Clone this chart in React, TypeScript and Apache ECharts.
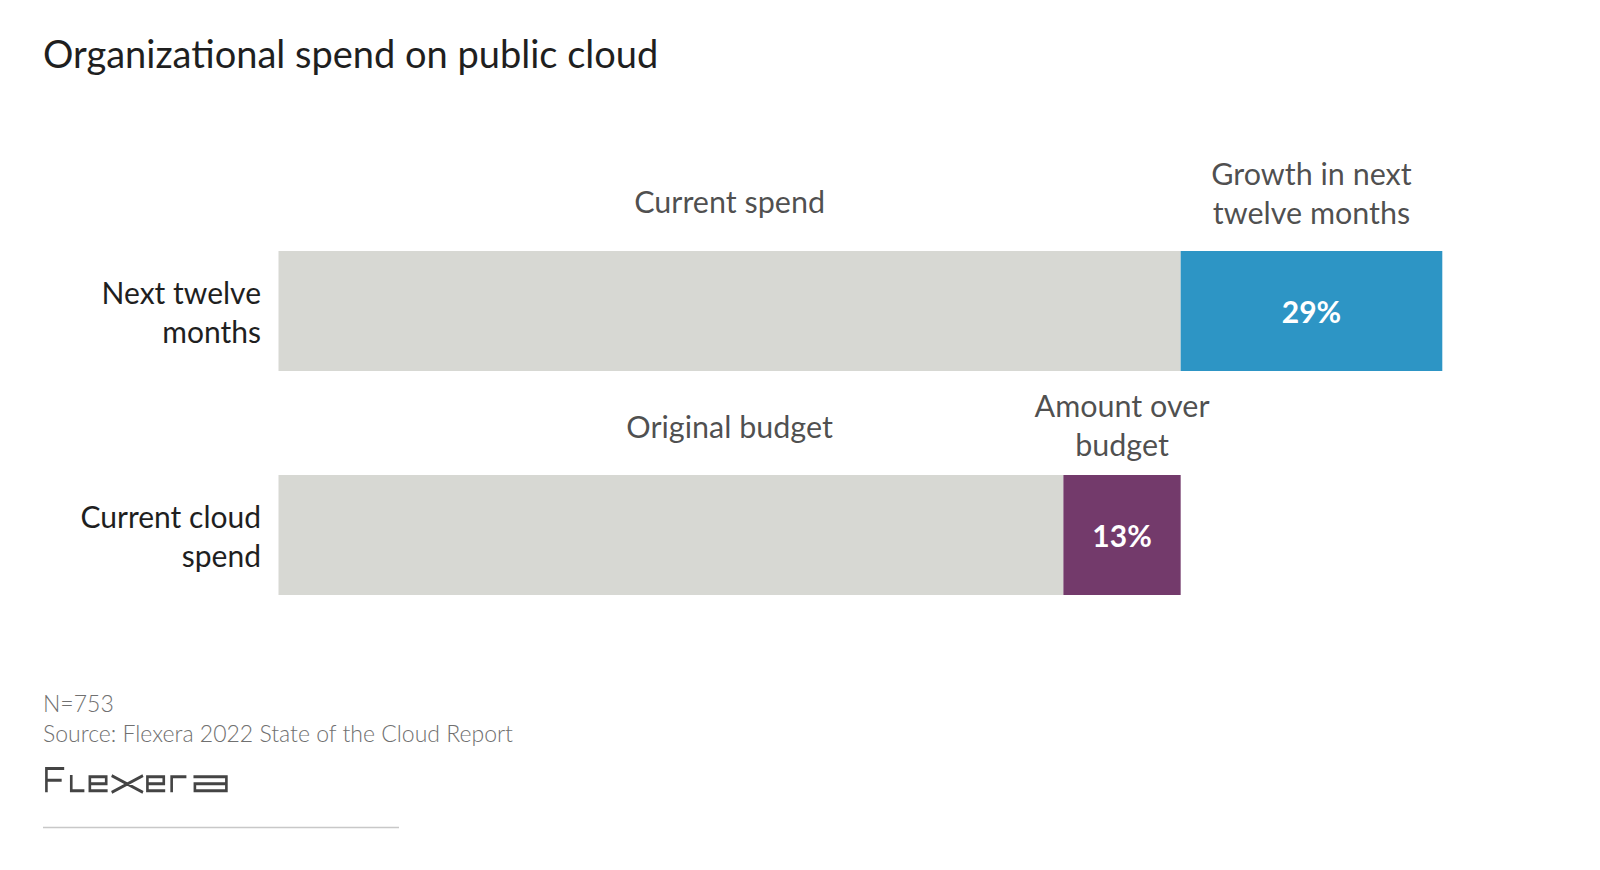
import React, { useEffect, useRef } from "react";
import * as echarts from "echarts";

const categories = ["Next twelve\nmonths", "Current cloud\nspend"];
const baseValues = [100, 87];
const extraValues = [29, 13];
const extraColors = ["#2d95c5", "#733a6b"];
const annotationTexts = ["Current spend", "Growth in next\ntwelve months", "Original budget", "Amount over\nbudget"];
const annotationX = [50, 114.5, 50, 93.5];
const annotationRow = [0, 0, 1, 1];
const annotationOffset = [-110, -119, -109.5, -110.5];

const LOGO_D =
  "M1.4 22 V1.4 H19 M1.4 11.5 H16.5 " +
  "M26 7 V20.6 H39 " +
  "M62 20.6 H44.4 V8.4 H60.6 V14.5 H44.4 " +
  "M66 7.5 L97 22 M97 7.5 L66 22 " +
  "M119 20.6 H101.4 V8.4 H117.6 V14.5 H101.4 " +
  "M125.4 22 V8.4 H140 " +
  "M147 8.4 H179.6 V20.6 H148.4 V14.5 H179.6";

echarts.graphic.registerShape("logo", echarts.graphic.extendPath(LOGO_D, {}));

const FONT = "Lato, 'Noto Sans', sans-serif";

export default function App() {
  const ref = useRef<HTMLDivElement>(null);
  useEffect(() => {
    if (!ref.current) return;
    const chart = echarts.init(ref.current, undefined, { renderer: "svg" });
    chart.setOption({
      animation: false,
      backgroundColor: "#ffffff",
      textStyle: { fontFamily: FONT },
      grid: { left: 278.5, right: 157.7, top: 199, height: 448, containLabel: false },
      xAxis: {
        type: "value",
        min: 0,
        max: 129,
        show: false,
      },
      yAxis: {
        type: "category",
        data: categories,
        inverse: true,
        axisLine: { show: false },
        axisTick: { show: false },
        splitLine: { show: false },
        axisLabel: {
          fontFamily: FONT,
          fontSize: 30,
          lineHeight: 39,
          color: "#1f1f1f",
          margin: 17.5,
          align: "right",
        },
      },
      series: [
        {
          type: "bar",
          stack: "s",
          barWidth: 120,
          silent: true,
          itemStyle: { color: "#d7d8d3" },
          data: baseValues,
        },
        {
          type: "bar",
          stack: "s",
          barWidth: 120,
          silent: true,
          data: extraValues.map((v, i) => ({ value: v, itemStyle: { color: extraColors[i] } })),
          label: {
            show: true,
            position: "inside",
            formatter: "{c}%",
            color: "#ffffff",
            fontFamily: FONT,
            fontWeight: "bold",
            fontSize: 30,
          },
        },
        {
          type: "scatter",
          symbolSize: 0,
          silent: true,
          data: annotationTexts.map((t, i) => ({
            name: t,
            value: [annotationX[i], annotationRow[i]],
            label: { offset: [0, annotationOffset[i]] },
          })),
          label: {
            show: true,
            position: "inside",
            formatter: "{b}",
            color: "#1f1f1f",
            fontFamily: FONT,
            fontSize: 30.5,
            lineHeight: 39,
            align: "center",
            verticalAlign: "middle",
          },
        },
      ],
      graphic: [
        {
          type: "text",
          x: 43,
          y: 53,
          style: {
            text: "Organizational spend on public cloud",
            fontFamily: FONT,
            fontSize: 38,
            fill: "#1f1f1f",
            align: "left",
            verticalAlign: "middle",
          },
        },
        {
          type: "text",
          x: 43,
          y: 703,
          style: {
            text: "N=753",
            fontFamily: FONT,
            fontSize: 23,
            fontWeight: 300,
            fill: "#707070",
            align: "left",
            verticalAlign: "middle",
          },
        },
        {
          type: "text",
          x: 43,
          y: 733,
          style: {
            text: "Source: Flexera 2022 State of the Cloud Report",
            fontFamily: FONT,
            fontSize: 23,
            fontWeight: 300,
            fill: "#707070",
            align: "left",
            verticalAlign: "middle",
          },
        },
        {
          type: "logo",
          x: 45,
          y: 767,
          scaleX: 1.01,
          scaleY: 1.15,
          style: { fill: "none", stroke: "#444444", lineWidth: 2.8, strokeNoScale: true },
        },
        {
          type: "line",
          shape: { x1: 43, y1: 827.5, x2: 399, y2: 827.5 },
          style: { stroke: "#c8c8c8", lineWidth: 1.5 },
        },
      ],
    });
    return () => chart.dispose();
  }, []);
  return (
    <div
      ref={ref}
      style={{ position: "fixed", left: 0, top: 0, width: 1600, height: 870, background: "#fff" }}
    />
  );
}
